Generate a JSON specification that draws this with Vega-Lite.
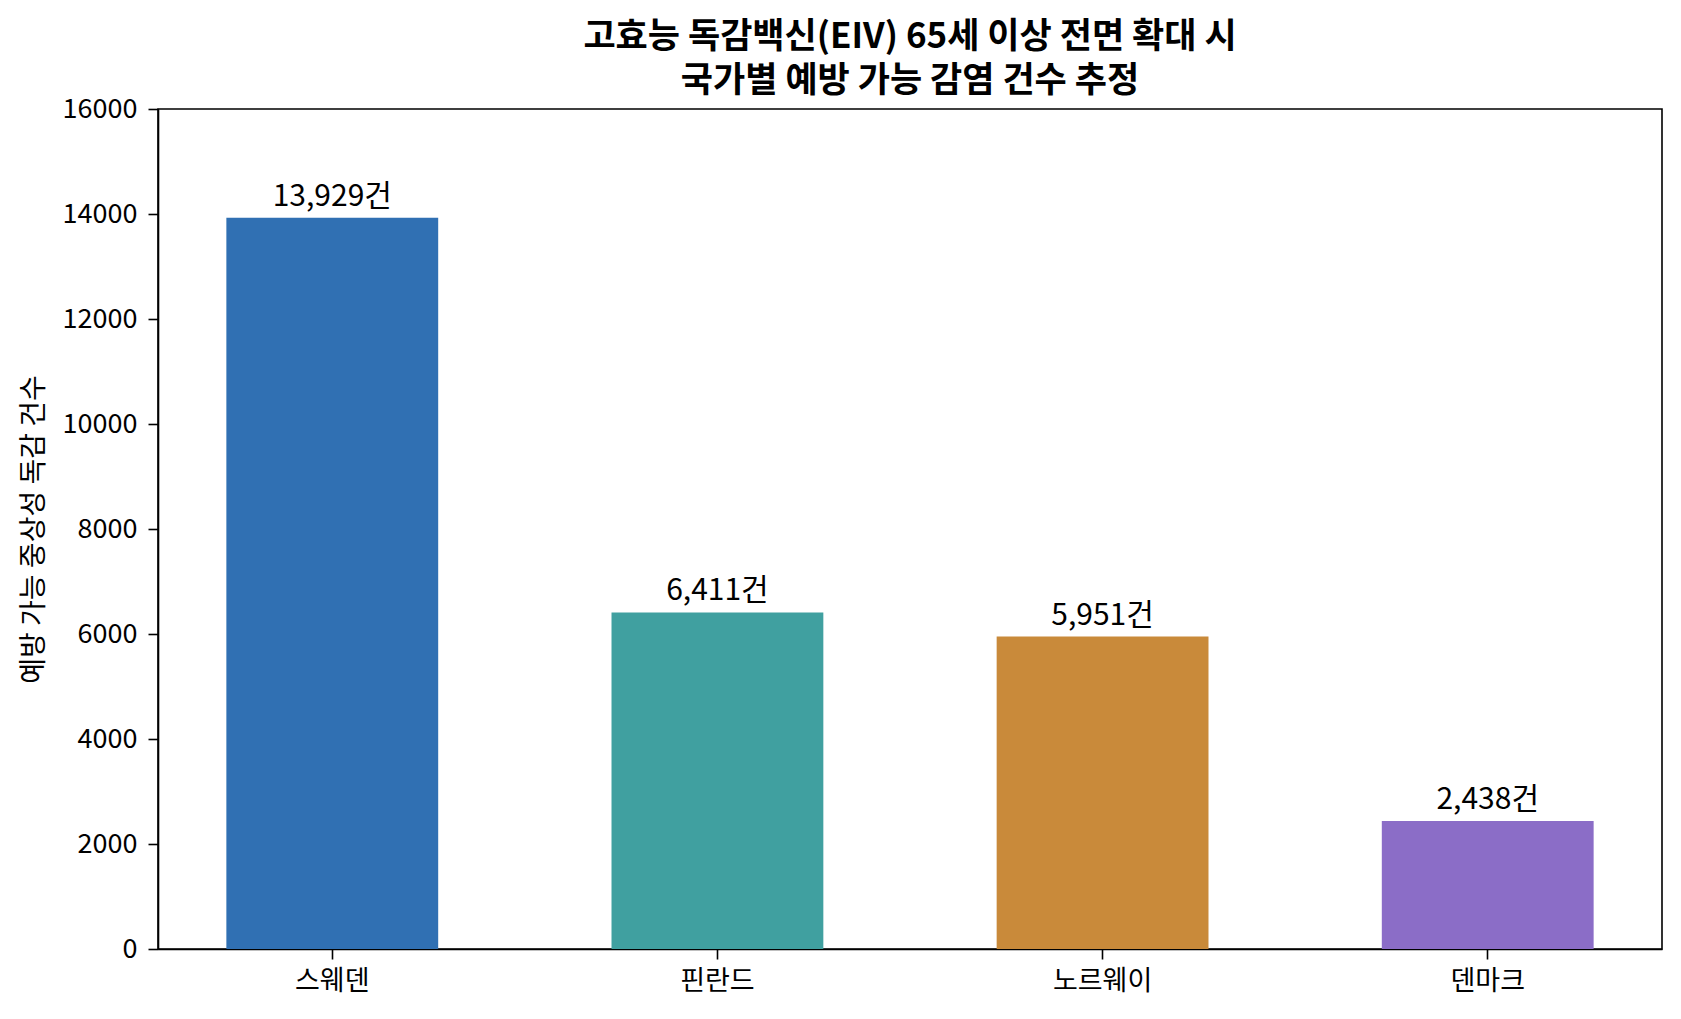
{
  "$schema": "https://vega.github.io/schema/vega-lite/v6.json",
  "width": 1504,
  "height": 840,
  "autosize": {"type": "none"},
  "padding": {"left": 158, "top": 109, "right": 19, "bottom": 70},
  "background": "white",
  "config": {
    "font": "Noto Sans CJK KR",
    "view": {"stroke": "black", "strokeWidth": 1.6},
    "axis": {
      "domainColor": "black",
      "domainWidth": 1.6,
      "tickColor": "black",
      "tickWidth": 1.6,
      "tickSize": 10,
      "labelColor": "black",
      "labelFontSize": 27,
      "titleColor": "black",
      "titleFontSize": 28,
      "titleFontWeight": "normal",
      "grid": false
    }
  },
  "title": {
    "text": ["고효능 독감백신(EIV) 65세 이상 전면 확대 시", "국가별 예방 가능 감염 건수 추정"],
    "fontSize": 35,
    "fontWeight": "bold",
    "lineHeight": 44,
    "anchor": "middle",
    "color": "black",
    "offset": -4
  },
  "data": {
    "values": [
      {"country": "스웨덴", "cases": 13929, "label": "13,929건"},
      {"country": "핀란드", "cases": 6411, "label": "6,411건"},
      {"country": "노르웨이", "cases": 5951, "label": "5,951건"},
      {"country": "덴마크", "cases": 2438, "label": "2,438건"}
    ]
  },
  "encoding": {
    "x": {
      "field": "country",
      "type": "nominal",
      "sort": null,
      "scale": {"paddingInner": 0.45, "paddingOuter": 0.1775},
      "axis": {"title": null, "labelAngle": 0, "labelPadding": 9}
    },
    "y": {
      "field": "cases",
      "type": "quantitative",
      "scale": {"domain": [0, 16000], "nice": false},
      "axis": {
        "title": "예방 가능 중상성 독감 건수",
        "values": [0, 2000, 4000, 6000, 8000, 10000, 12000, 14000, 16000],
        "format": "d",
        "labelPadding": 11,
        "titlePadding": 14
      }
    }
  },
  "layer": [
    {
      "mark": {"type": "bar"},
      "encoding": {
        "color": {
          "field": "country",
          "type": "nominal",
          "sort": null,
          "scale": {
            "domain": ["스웨덴", "핀란드", "노르웨이", "덴마크"],
            "range": ["#3070b3", "#40a0a0", "#c98a3a", "#8b6dc7"]
          },
          "legend": null
        }
      }
    },
    {
      "mark": {"type": "text", "baseline": "alphabetic", "dy": -12, "fontSize": 30, "color": "black"},
      "encoding": {"text": {"field": "label"}}
    }
  ]
}
